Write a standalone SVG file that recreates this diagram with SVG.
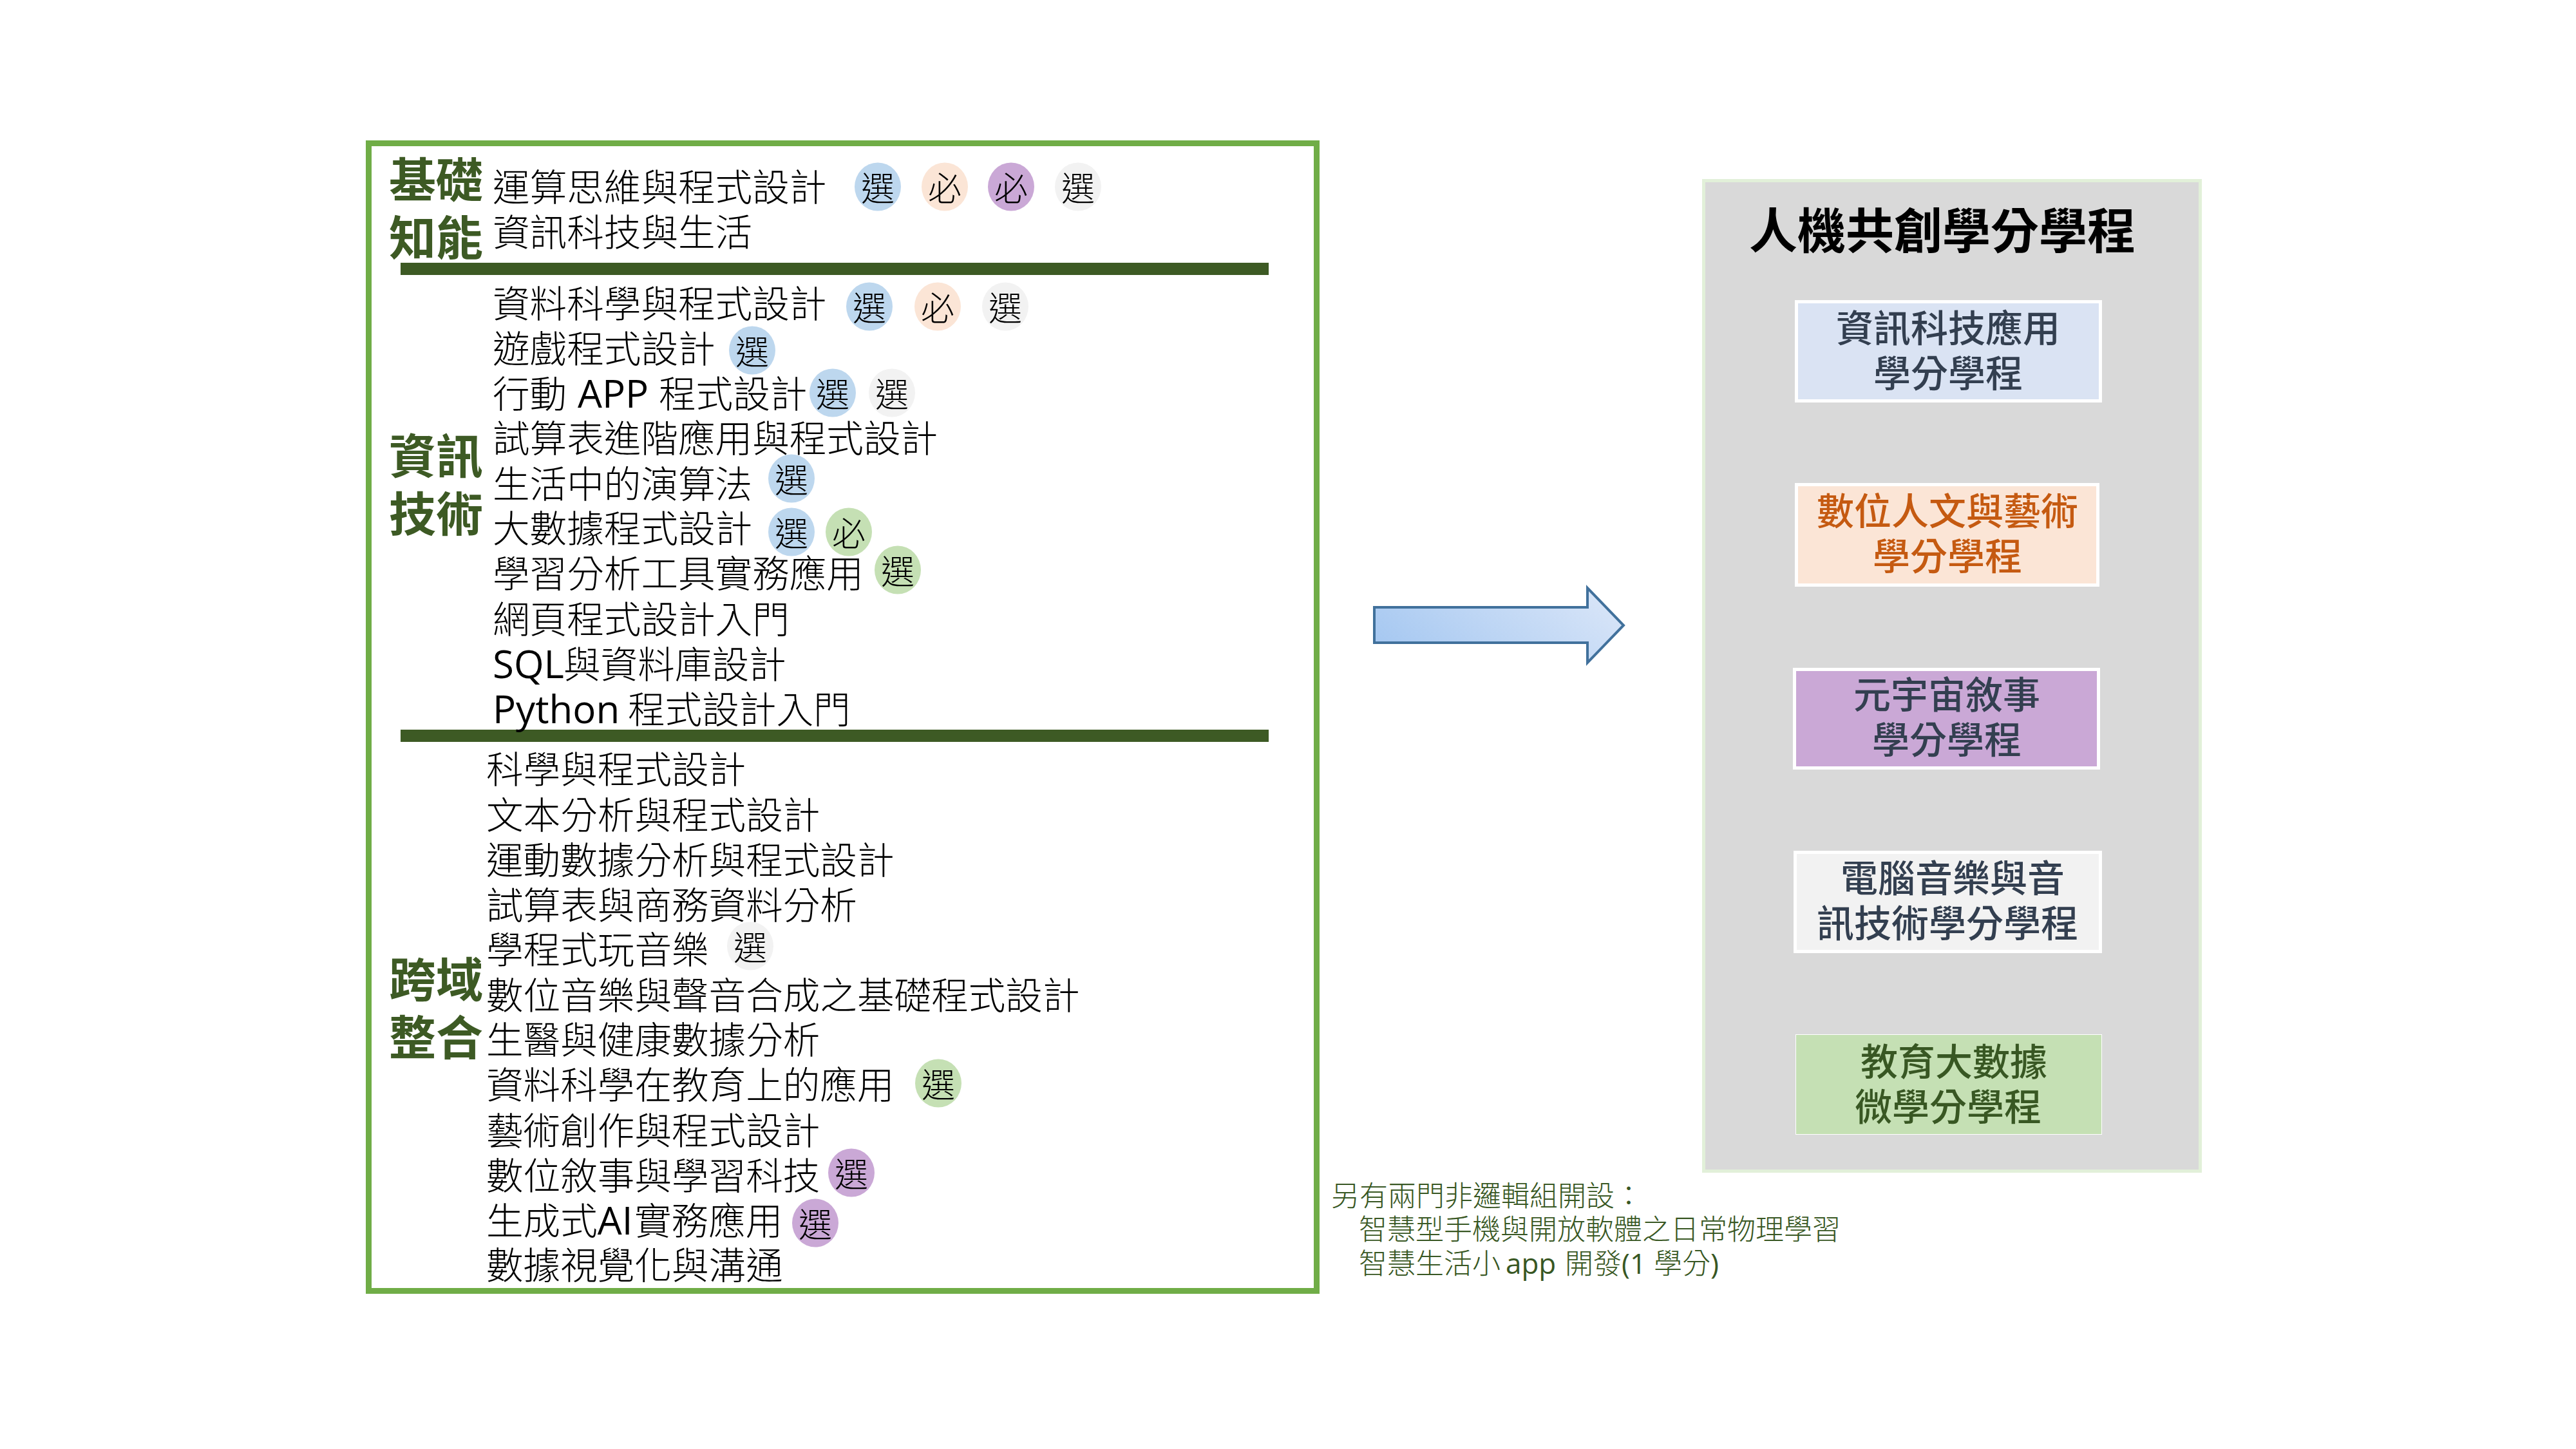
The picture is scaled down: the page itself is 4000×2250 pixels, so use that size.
<svg xmlns="http://www.w3.org/2000/svg" width="4000" height="2250" viewBox="0 0 4000 2250">
<defs>
<linearGradient id="ag" x1="0" y1="0.7" x2="1" y2="0.3"><stop offset="0" stop-color="#A6C8F1"/><stop offset="1" stop-color="#D8E5F8"/></linearGradient>
<style>
text{font-family:"Open Sans","Noto Sans CJK TC",sans-serif;}
.c{font-size:57.6px;font-weight:300;fill:#000}
.l{font-size:60px;font-weight:400}
.h{font-size:73px;font-weight:700;fill:#3D5A24}
.b{font-size:52px;font-weight:300;fill:#000;text-anchor:middle;font-family:"Noto Sans CJK TC",sans-serif}
.p{font-size:58px;font-weight:500;text-anchor:middle}
.n{font-size:44px;font-weight:300;fill:#385723}
.bl{fill:#BDD7EE}.or{fill:#FBE5D6}.pu{fill:#CAA8D6}.gr{fill:#F2F2F2}.ge{fill:#C5E0B4}
.box{stroke:#fff;stroke-width:5}
</style>
</defs>
<rect width="4000" height="2250" fill="#fff"/>
<g id="course-frame">
<rect x="572.5" y="222.5" width="1472" height="1782" fill="#fff" stroke="#70AD47" stroke-width="9"/>
<rect x="622" y="408" width="1348" height="19" fill="#3D5A24"/>
<rect x="622" y="1133" width="1348" height="19" fill="#3D5A24"/>
</g>
<g id="headings">
<text class="h" x="604" y="306">基礎</text>
<text class="h" x="604" y="396">知能</text>
<text class="h" x="604" y="735">資訊</text>
<text class="h" x="604" y="825">技術</text>
<text class="h" x="604" y="1548">跨域</text>
<text class="h" x="604" y="1638">整合</text>
</g>
<g id="courses-basic">
<text class="c" x="765" y="312">運算思維與程式設計</text>
<text class="c" x="765" y="382">資訊科技與生活</text>
</g>
<g id="courses-it">
<text class="c" x="765" y="493">資料科學與程式設計</text>
<text class="c" x="765" y="563">遊戲程式設計</text>
<text class="c" x="765" y="633">行動 <tspan class="l" x="897">APP</tspan> <tspan x="1023">程式設計</tspan></text>
<text class="c" x="765" y="702">試算表進階應用與程式設計</text>
<text class="c" x="765" y="773">生活中的演算法</text>
<text class="c" x="765" y="842">大數據程式設計</text>
<text class="c" x="765" y="912">學習分析工具實務應用</text>
<text class="c" x="765" y="983">網頁程式設計入門</text>
<text class="c" x="765" y="1053"><tspan class="l">SQL</tspan><tspan x="875">與資料庫設計</tspan></text>
<text class="c" x="765" y="1123"><tspan class="l">Python</tspan> <tspan x="975">程式設計入門</tspan></text>
</g>
<g id="courses-cross">
<text class="c" x="755" y="1216">科學與程式設計</text>
<text class="c" x="755" y="1287">文本分析與程式設計</text>
<text class="c" x="755" y="1357">運動數據分析與程式設計</text>
<text class="c" x="755" y="1427">試算表與商務資料分析</text>
<text class="c" x="755" y="1496">學程式玩音樂</text>
<text class="c" x="755" y="1567">數位音樂與聲音合成之基礎程式設計</text>
<text class="c" x="755" y="1636">生醫與健康數據分析</text>
<text class="c" x="755" y="1706">資料科學在教育上的應用</text>
<text class="c" x="755" y="1777">藝術創作與程式設計</text>
<text class="c" x="755" y="1847">數位敘事與學習科技</text>
<text class="c" x="755" y="1917">生成式<tspan class="l">AI</tspan><tspan x="985">實務應用</tspan></text>
<text class="c" x="755" y="1986">數據視覺化與溝通</text>
</g>
<g id="badges">
<ellipse class="bl" cx="1363" cy="290" rx="36" ry="37.5"/><text class="b" x="1363" y="312">選</text>
<ellipse class="or" cx="1467" cy="290" rx="36" ry="37.5"/><text class="b" x="1467" y="312">必</text>
<ellipse class="pu" cx="1570" cy="290" rx="36" ry="37.5"/><text class="b" x="1570" y="312">必</text>
<ellipse class="gr" cx="1674" cy="290" rx="36" ry="37.5"/><text class="b" x="1674" y="312">選</text>
<ellipse class="bl" cx="1350" cy="476" rx="36" ry="37.5"/><text class="b" x="1350" y="498">選</text>
<ellipse class="or" cx="1456" cy="476" rx="36" ry="37.5"/><text class="b" x="1456" y="498">必</text>
<ellipse class="gr" cx="1561" cy="476" rx="36" ry="37.5"/><text class="b" x="1561" y="498">選</text>
<ellipse class="bl" cx="1168" cy="544" rx="36" ry="37.5"/><text class="b" x="1168" y="566">選</text>
<ellipse class="bl" cx="1293" cy="610" rx="36" ry="37.5"/><text class="b" x="1293" y="632">選</text>
<ellipse class="gr" cx="1385" cy="610" rx="36" ry="37.5"/><text class="b" x="1385" y="632">選</text>
<ellipse class="bl" cx="1229" cy="743" rx="36" ry="37.5"/><text class="b" x="1229" y="765">選</text>
<ellipse class="bl" cx="1229" cy="826" rx="36" ry="37.5"/><text class="b" x="1229" y="848">選</text>
<ellipse class="ge" cx="1318" cy="826" rx="36" ry="37.5"/><text class="b" x="1318" y="848">必</text>
<ellipse class="ge" cx="1394" cy="885" rx="36" ry="37.5"/><text class="b" x="1394" y="907">選</text>
<ellipse class="gr" cx="1165" cy="1469" rx="36" ry="37.5"/><text class="b" x="1165" y="1491">選</text>
<ellipse class="ge" cx="1457" cy="1682" rx="36" ry="37.5"/><text class="b" x="1457" y="1704">選</text>
<ellipse class="pu" cx="1322" cy="1821" rx="36" ry="37.5"/><text class="b" x="1322" y="1843">選</text>
<ellipse class="pu" cx="1266" cy="1899" rx="36" ry="37.5"/><text class="b" x="1266" y="1921">選</text>
</g>
<g id="connectors">
<polygon points="2134,943 2465,943 2465,913 2521,971 2465,1029 2465,998 2134,998" fill="url(#ag)" stroke="#41719C" stroke-width="4"/>
</g>
<g id="program-panel">
<rect x="2645.5" y="280.5" width="771" height="1538" fill="#D9D9D9" stroke="#E2F0D9" stroke-width="5"/>
<text x="3016" y="386" text-anchor="middle" font-size="75" font-weight="700" fill="#000">人機共創學分學程</text>
</g>
<g id="program-1">
<rect class="box" x="2789.5" y="468.5" width="472" height="154" fill="#DAE3F3"/>
<text class="p" x="3025" y="531" fill="#333F50">資訊科技應用</text>
<text class="p" x="3025" y="601" fill="#333F50">學分學程</text>
</g>
<g id="program-2">
<rect class="box" x="2789.5" y="752.5" width="468" height="156" fill="#FBE5D6"/>
<text class="p" x="3024" y="815" fill="#C55A11">數位人文與藝術</text>
<text class="p" x="3024" y="885" fill="#C55A11">學分學程</text>
</g>
<g id="program-3">
<rect class="box" x="2786.5" y="1039.5" width="472" height="153" fill="#CAA8D6"/>
<text class="p" x="3023" y="1100" fill="#333F50">元宇宙敘事</text>
<text class="p" x="3023" y="1170" fill="#333F50">學分學程</text>
</g>
<g id="program-4">
<rect class="box" x="2787.5" y="1323.5" width="474" height="154" fill="#F2F2F2"/>
<text class="p" x="3032" y="1385" fill="#333F50">電腦音樂與音</text>
<text class="p" x="3024" y="1455" fill="#333F50">訊技術學分學程</text>
</g>
<g id="program-5">
<rect x="2788.5" y="1606.5" width="475" height="155" fill="#C5E0B4" stroke="#fff" stroke-width="1"/>
<text class="p" x="3034" y="1670" fill="#385723">教育大數據</text>
<text class="p" x="3025" y="1740" fill="#385723">微學分學程</text>
</g>
<g id="note">
<text class="n" x="2067" y="1873">另有兩門非邏輯組開設：</text>
<text class="n" x="2110" y="1925">智慧型手機與開放軟體之日常物理學習</text>
<text class="n" x="2110" y="1978">智慧生活小 <tspan x="2338" font-weight="400">app</tspan> <tspan x="2430">開發</tspan><tspan x="2518" font-weight="400">(1</tspan> <tspan x="2568">學分</tspan><tspan font-weight="400">)</tspan></text>
</g>
</svg>
